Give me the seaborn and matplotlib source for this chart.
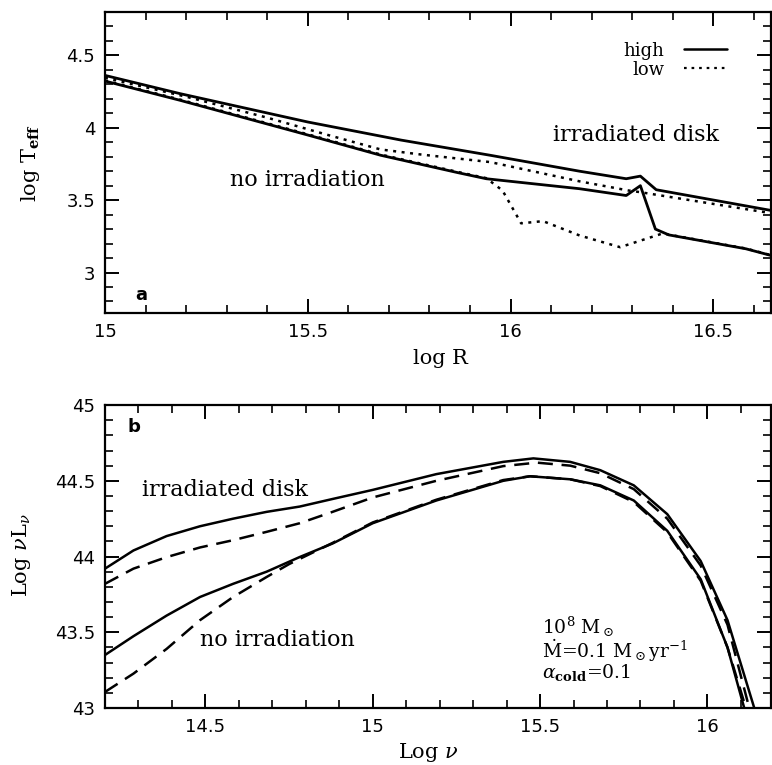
import matplotlib
matplotlib.use("Agg")
import matplotlib.pyplot as plt
import seaborn as sns
import numpy as np
import pandas as pd
from matplotlib.lines import Line2D
from matplotlib.ticker import MultipleLocator

# ---------------- data: panel a (log Teff vs log R) ----------------
r_high_irr = [15.0, 15.185, 15.5, 15.73, 15.95, 16.17, 16.285, 16.32, 16.359, 16.642]
t_high_irr = [4.362, 4.236, 4.04, 3.915, 3.81, 3.70, 3.648, 3.666, 3.572, 3.429]

r_high_non = [15.0, 15.185, 15.5, 15.68, 15.87, 15.94, 16.17, 16.285, 16.32, 16.357, 16.39, 16.58, 16.642]
t_high_non = [4.323, 4.19, 3.95, 3.81, 3.69, 3.648, 3.579, 3.532, 3.60, 3.30, 3.26, 3.164, 3.118]

r_low_irr = [15.0, 15.2, 15.4, 15.55, 15.68, 15.78, 15.95, 16.17, 16.29, 16.32, 16.642]
t_low_irr = [4.346, 4.215, 4.07, 3.95, 3.85, 3.815, 3.763, 3.63, 3.567, 3.555, 3.41]

r_low_non = [15.0, 15.185, 15.5, 15.68, 15.87, 15.94, 15.98, 16.026, 16.08, 16.17, 16.27, 16.375, 16.39, 16.58, 16.642]
t_low_non = [4.327, 4.195, 3.955, 3.815, 3.695, 3.652, 3.567, 3.34, 3.355, 3.256, 3.175, 3.27, 3.262, 3.166, 3.12]

# ---------------- data: panel b (log nuL_nu vs log nu) ----------------
nu_irr_s = [14.2, 14.285, 14.384, 14.484, 14.583, 14.683, 14.782, 14.88, 15.0, 15.19, 15.39, 15.48, 15.59,
            15.68, 15.78, 15.88, 15.98, 16.06, 16.14]
L_irr_s = [43.92, 44.04, 44.135, 44.20, 44.25, 44.295, 44.33, 44.38, 44.44, 44.544, 44.625, 44.648, 44.625,
           44.57, 44.47, 44.28, 43.97, 43.58, 43.0]

nu_irr_d = [14.2, 14.285, 14.384, 14.484, 14.583, 14.683, 14.782, 14.88, 15.0, 15.19, 15.39, 15.49, 15.59,
            15.68, 15.78, 15.88, 15.98, 16.06, 16.125]
L_irr_d = [43.82, 43.92, 43.996, 44.06, 44.108, 44.163, 44.22, 44.295, 44.39, 44.50, 44.597, 44.62, 44.60,
           44.55, 44.445, 44.25, 43.94, 43.55, 43.0]

nu_non_s = [14.2, 14.285, 14.384, 14.484, 14.583, 14.683, 14.782, 14.88, 15.0, 15.19, 15.39, 15.47, 15.59,
            15.68, 15.78, 15.88, 15.98, 16.06, 16.11]
L_non_s = [43.35, 43.474, 43.61, 43.733, 43.82, 43.90, 43.997, 44.086, 44.22, 44.37, 44.50, 44.53, 44.51,
           44.47, 44.37, 44.17, 43.85, 43.40, 43.0]

nu_non_d = [14.2, 14.285, 14.384, 14.484, 14.583, 14.683, 14.75, 14.88, 15.0, 15.19, 15.39, 15.47, 15.59,
            15.68, 15.78, 15.88, 15.98, 16.06, 16.115]
L_non_d = [43.106, 43.227, 43.39, 43.58, 43.733, 43.865, 43.95, 44.09, 44.225, 44.375, 44.505, 44.53, 44.51,
           44.465, 44.36, 44.16, 43.84, 43.40, 43.0]

legend_labels = ["high", "low"]
params_lines = [r"10$^8$ M$_\odot$",
                r"$\dot{\mathrm{M}}$=0.1 M$_\odot$yr$^{-1}$",
                r"$\alpha_{\mathbf{cold}}$=0.1"]

# ---------------- style ----------------
sns.set_style("ticks")
plt.rcParams["font.family"] = ["DejaVu Serif"]
plt.rcParams["mathtext.fontset"] = "dejavuserif"
for key in ("text.color", "axes.labelcolor", "xtick.color", "ytick.color", "axes.edgecolor"):
    plt.rcParams[key] = "black"
tick_font = "DejaVu Sans"

fig = plt.figure(figsize=(7.72, 7.65), dpi=100)
ax1 = fig.add_axes([0.136, 0.5908, 0.8627, 0.3935])
ax2 = fig.add_axes([0.136, 0.0745, 0.8627, 0.396])

solid = dict(color="black", linewidth=2.0, estimator=None)
dotted = dict(color="black", linewidth=1.8, estimator=None)

sns.lineplot(x=r_high_irr, y=t_high_irr, ax=ax1, linestyle="-", **solid)
sns.lineplot(x=r_high_non, y=t_high_non, ax=ax1, linestyle="-", **solid)
sns.lineplot(x=r_low_irr, y=t_low_irr, ax=ax1, linestyle=(0, (1.2, 2.2)), **dotted)
sns.lineplot(x=r_low_non, y=t_low_non, ax=ax1, linestyle=(0, (1.2, 2.2)), **dotted)

dash_style = (0, (6, 3.5))
sns.lineplot(x=nu_irr_s, y=L_irr_s, ax=ax2, linestyle="-", color="black", linewidth=1.8, estimator=None)
sns.lineplot(x=nu_irr_d, y=L_irr_d, ax=ax2, linestyle=dash_style, color="black", linewidth=1.8, estimator=None)
sns.lineplot(x=nu_non_s, y=L_non_s, ax=ax2, linestyle="-", color="black", linewidth=1.8, estimator=None)
sns.lineplot(x=nu_non_d, y=L_non_d, ax=ax2, linestyle=dash_style, color="black", linewidth=1.8, estimator=None)

# ---------------- axes ----------------
ax1.set_xlim(15.0, 16.642)
ax1.set_ylim(2.72, 4.8)
ax1.xaxis.set_minor_locator(MultipleLocator(0.1))
ax1.yaxis.set_minor_locator(MultipleLocator(0.1))
ax1.set_xticks([15, 15.5, 16, 16.5])
ax1.set_xticklabels(["15", "15.5", "16", "16.5"])
ax1.set_yticks([3, 3.5, 4, 4.5])
ax1.set_yticklabels(["3", "3.5", "4", "4.5"])

ax2.set_xlim(14.2, 16.19)
ax2.set_ylim(43.0, 45.0)
ax2.xaxis.set_minor_locator(MultipleLocator(0.1))
ax2.yaxis.set_minor_locator(MultipleLocator(0.1))
ax2.set_xticks([14.5, 15, 15.5, 16])
ax2.set_xticklabels(["14.5", "15", "15.5", "16"])
ax2.set_yticks([43, 43.5, 44, 44.5, 45])
ax2.set_yticklabels(["43", "43.5", "44", "44.5", "45"])

for ax in (ax1, ax2):
    for s in ax.spines.values():
        s.set_visible(True)
        s.set_linewidth(1.6)
        s.set_color("black")
    ax.tick_params(which="both", direction="in", top=True, right=True, color="black", labelcolor="black")
    ax.tick_params(which="major", length=10, width=1.4, pad=7, labelsize=13)
    ax.tick_params(which="minor", length=5.5, width=1.2)
    for lab in ax.get_xticklabels() + ax.get_yticklabels():
        lab.set_fontfamily(tick_font)

ax1.set_xlabel("log R", fontsize=15)
ax1.set_ylabel(r"log T$_{\mathbf{eff}}$", fontsize=15)
ax1.xaxis.set_label_coords(0.503, -0.12)
ax1.yaxis.set_label_coords(-0.095, 0.5)

ax2.set_xlabel(r"Log $\nu$", fontsize=15)
ax2.set_ylabel(r"Log $\nu$L$_\nu$", fontsize=15)
ax2.xaxis.set_label_coords(0.485, -0.108)
ax2.yaxis.set_label_coords(-0.108, 0.505)

# ---------------- annotations ----------------
ax1.text(15.5, 3.64, "no irradiation", fontsize=16, ha="center", va="center")
ax1.text(16.31, 3.95, "irradiated disk", fontsize=16, ha="center", va="center")
ax1.text(0.054, 0.06, "a", transform=ax1.transAxes, fontsize=13, fontweight="bold",
         family="DejaVu Sans", ha="center", va="center")

handles = [Line2D([], [], color="black", linewidth=1.8, linestyle="-"),
           Line2D([], [], color="black", linewidth=1.6, linestyle=(0, (1.2, 2.2)))]
leg = ax1.legend(handles, legend_labels, loc="upper right", bbox_to_anchor=(0.945, 0.925),
                 frameon=False, markerfirst=False, fontsize=13, handlelength=2.4,
                 handletextpad=1.1, labelspacing=0.05, borderaxespad=0.0)

ax2.text(14.558, 44.44, "irradiated disk", fontsize=16, ha="center", va="center")
ax2.text(14.716, 43.447, "no irradiation", fontsize=16, ha="center", va="center")
ax2.text(0.044, 0.927, "b", transform=ax2.transAxes, fontsize=13, fontweight="bold",
         family="DejaVu Sans", ha="center", va="center")
ax2.text(15.505, 43.39, "\n".join(params_lines), fontsize=13.5, ha="left", va="center",
         linespacing=0.88)

fig.savefig("out.png", dpi=100)
